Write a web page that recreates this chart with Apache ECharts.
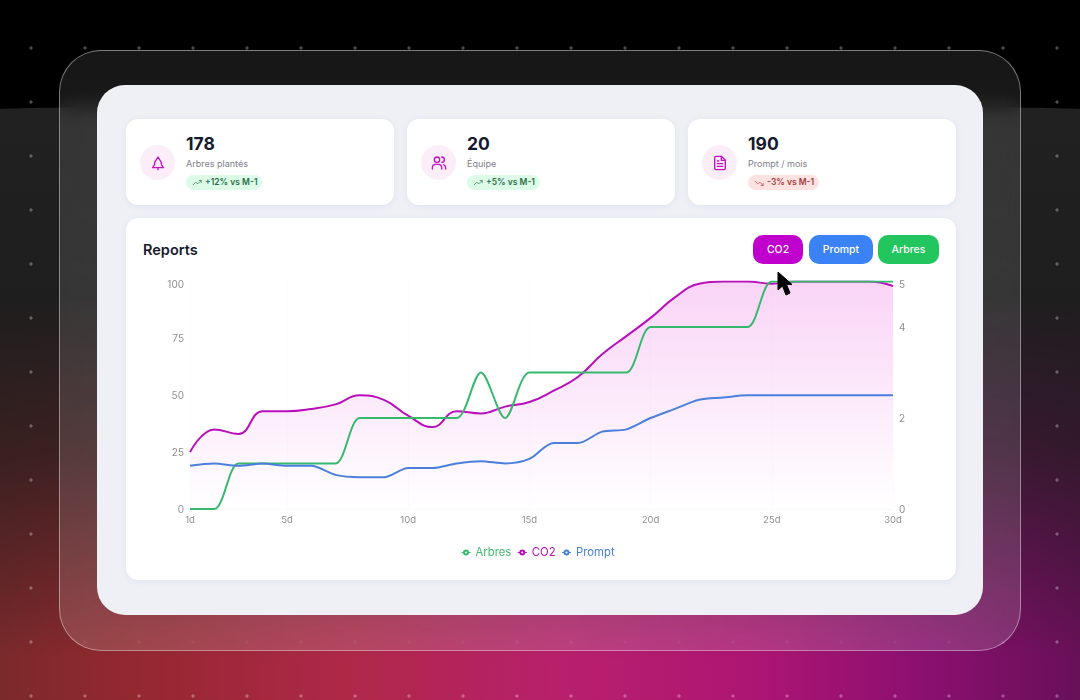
<!DOCTYPE html>
<html><head><meta charset="utf-8">
<script src="https://cdn.jsdelivr.net/npm/echarts@6/dist/echarts.min.js"></script>
<style>
*{box-sizing:border-box}
html,body{margin:0;padding:0;width:1080px;height:700px;overflow:hidden;background:#000;font-family:Inter,sans-serif}
.abs{position:absolute}
#bg{left:0;top:106px;width:1080px;height:594px;border-radius:50% 50% 0 0 / 3px 3px 0 0;
 background:linear-gradient(180deg,#212121 0%,#1e1e1e 32%,rgba(31,28,28,.72) 58%,rgba(31,31,31,0) 93%),
 linear-gradient(90deg,#7a2a2c 0%,#93282f 12%,#b0284a 33%,#b8206c 52%,#ad1573 70%,#8c1070 85%,#681058 100%);}
#dots{left:0;top:0;width:1080px;height:700px;
 background-image:radial-gradient(circle at 31px 48px,rgba(255,255,255,.3) 1.3px,transparent 1.9px);background-size:54px 54px;}
#glass{left:59px;top:50px;width:962px;height:601px;border-radius:42px;border:1px solid rgba(255,255,255,.42);
 background:linear-gradient(180deg,rgba(255,255,255,.09),rgba(255,255,255,.14));
 -webkit-backdrop-filter:blur(10px);backdrop-filter:blur(10px)}
#panel{left:97px;top:85px;width:886px;height:530px;border-radius:28px;background:#eef0f5}
.card{position:absolute;background:#fff;border-radius:12px;box-shadow:0 1px 6px rgba(110,140,210,.12)}
.kpi{top:119px;width:268px;height:86px}
.ico{position:absolute;left:14px;top:26px;width:35px;height:35px;border-radius:50%;background:#fbeef8;display:flex;align-items:center;justify-content:center}
.ico svg{width:16px;height:16px;fill:none;stroke:#c511c5;stroke-width:2;stroke-linecap:round;stroke-linejoin:round}
.num{position:absolute;left:60px;top:14px;font-size:17.5px;line-height:22px;font-weight:700;color:#161a2c}
.lab{position:absolute;left:60px;top:39px;font-size:9px;line-height:12px;color:#7d808a}
.badge{position:absolute;left:60px;top:56px;height:15px;border-radius:8px;padding:0 5px 0 6px;font-size:8.5px;line-height:15px;font-weight:600;display:flex;align-items:center;gap:3px}
.badge svg{width:10px;height:10px;fill:none;stroke:currentColor;stroke-width:1.6}
.up{background:#dcfce7;color:#2b6e49}.down{background:#fee2e2;color:#a53a3a}
#title{left:143px;top:240px;font-size:14.5px;line-height:20px;font-weight:600;color:#161a2c}
.btn{position:absolute;top:235px;height:29px;border-radius:10px;color:#fff;font-size:10.5px;font-weight:500;display:flex;align-items:center;justify-content:center}
#chart{left:0;top:0;width:1080px;height:700px}
#cursor{left:775px;top:270px;width:20px;height:28px}
</style></head><body>
<div class="abs" id="bg"></div>
<div class="abs" id="dots"></div>
<div class="abs" id="glass"></div>
<div class="abs" id="panel"></div>

<div class="card kpi" style="left:126px">
 <div class="ico"><svg viewBox="0 0 24 24"><path d="M12 3l5 8v3l3 5H4l3-5v-3z"/><path d="M12 19v3"/></svg></div>
 <div class="num">178</div><div class="lab">Arbres plantés</div>
 <div class="badge up"><svg viewBox="0 0 24 24"><path d="M2 17l7-7 5 4 8-8M16 6h6v6"/></svg>+12% vs M-1</div>
</div>
<div class="card kpi" style="left:407px">
 <div class="ico"><svg viewBox="0 0 24 24"><circle cx="9" cy="7" r="4"/><path d="M2 21v-2a5 5 0 0 1 5-5h4a5 5 0 0 1 5 5v2M16 3a4 4 0 0 1 0 8M22 21v-2a5 5 0 0 0-3-4.500"/></svg></div>
 <div class="num">20</div><div class="lab">Équipe</div>
 <div class="badge up"><svg viewBox="0 0 24 24"><path d="M2 17l7-7 5 4 8-8M16 6h6v6"/></svg>+5% vs M-1</div>
</div>
<div class="card kpi" style="left:688px">
 <div class="ico"><svg viewBox="0 0 24 24"><path d="M14 2H6a2 2 0 0 0-2 2v16a2 2 0 0 0 2 2h12a2 2 0 0 0 2-2V8z"/><path d="M14 2v6h6M8 13h8M8 17h8M8 9h2"/></svg></div>
 <div class="num">190</div><div class="lab">Prompt / mois</div>
 <div class="badge down"><svg viewBox="0 0 24 24"><path d="M2 7l7 7 5-4 8 8M16 18h6v-6"/></svg>-3% vs M-1</div>
</div>

<div class="card" style="left:126px;top:218px;width:830px;height:362px"></div>
<div class="abs" id="title">Reports</div>
<div class="btn" style="left:753px;width:50px;background:#c000cc">CO2</div>
<div class="btn" style="left:809px;width:64px;background:#3b82f6">Prompt</div>
<div class="btn" style="left:878px;width:61px;background:#22c55e">Arbres</div>

<div class="abs" id="chart"></div>
<svg class="abs" id="cursor" viewBox="0 0 20 28"><path d="M3 2L3 20L7.500 16L11 25L15 23L11.500 14.500L17 14.500Z" fill="#000" stroke="#000" stroke-width="1"/></svg>

<script>
const categories = ['1d','2d','3d','4d','5d','6d','7d','8d','9d','10d','11d','12d','13d','14d','15d','16d','17d','18d','19d','20d','21d','22d','23d','24d','25d','26d','27d','28d','29d','30d'];
const shownLabels = ['1d','5d','10d','15d','20d','25d','30d'];
const arbres = [0,0,1,1,1,1,1,2,2,2,2,2,3,2,3,3,3,3,3,4,4,4,4,4,5,5,5,5,5,5];
const co2 = [25,35,33,43,43,44,46,50,48,41,36,43,42,45,47,52,58,68,76,84,93,99,100,100,99,100,100,100,100,98];
const prompt = [19,20,19,20,19,19,15,14,14,18,18,20,21,20,22,29,29,34,35,40,44,48,49,50,50,50,50,50,50,50];

const C_GREEN='#36b96c', C_PURPLE='#b90fbb', C_BLUE='#4a80dc', C_TICK='#8f8f94';
const chart = echarts.init(document.getElementById('chart'), null, {renderer:'canvas'});
const tickRich = {
  n:{padding:[2,0,0,0],color:C_TICK,fontSize:10,fontFamily:'Inter'},
  t:{padding:[7,0,0,0],color:C_TICK,fontSize:10,fontFamily:'Inter'}
};
const lineSeries=(name,data,color,yAxisIndex,extra)=>Object.assign({
  name,type:'line',data,yAxisIndex,smooth:0.3,showSymbol:false,symbol:'emptyCircle',symbolSize:4,
  lineStyle:{color,width:2},itemStyle:{color}},extra||{});
const legendText=(fontColor)=>({color:fontColor,fontSize:11.3,fontFamily:'Inter'});
chart.setOption({
  animation:false,
  backgroundColor:'transparent',
  textStyle:{fontFamily:'Inter'},
  legend:{top:542,left:456,itemWidth:9,itemHeight:5,itemGap:6,
    lineStyle:{width:1},itemStyle:{borderWidth:1},
    data:[{name:'Arbres',textStyle:legendText('#3fb970')},{name:'CO2',textStyle:legendText('#b90fbb')},{name:'Prompt',textStyle:legendText('#4a80dc')}]},
  grid:{left:190,right:187,top:281.5,bottom:191,containLabel:false},
  xAxis:{type:'category',data:categories,boundaryGap:false,
    axisLine:{show:true,lineStyle:{color:'#f8f8f9'}},axisTick:{show:false},
    splitLine:{show:true,lineStyle:{color:'rgba(0,0,0,0.012)'}},
    axisLabel:{color:C_TICK,fontSize:9.5,margin:6,fontFamily:'Inter',
      interval:(i,v)=>shownLabels.includes(v),hideOverlap:false}},
  yAxis:[
    {type:'value',min:0,max:100,interval:25,position:'left',
     axisLine:{show:false},axisTick:{show:false},splitLine:{show:false},
     axisLabel:{margin:6,rich:tickRich,formatter:v=>v===100?'{t|100}':'{n|'+v+'}'}},
    {type:'value',min:0,max:5,interval:2,position:'right',
     axisLine:{show:false},axisTick:{show:false},splitLine:{show:false},
     axisLabel:{margin:6,rich:tickRich,formatter:v=>v===5?'{t|5}':'{n|'+v+'}'}}
  ],
  series:[
    lineSeries('Arbres',arbres,C_GREEN,1,{z:3}),
    lineSeries('CO2',co2,C_PURPLE,0,{z:2,smooth:0.45,areaStyle:{opacity:1,color:new echarts.graphic.LinearGradient(0,0,0,1,[
      {offset:0,color:'rgba(228,60,215,0.22)'},{offset:1,color:'rgba(228,60,215,0)'}])}}),
    lineSeries('Prompt',prompt,C_BLUE,0,{z:3})
  ]
});
</script>
</body></html>
